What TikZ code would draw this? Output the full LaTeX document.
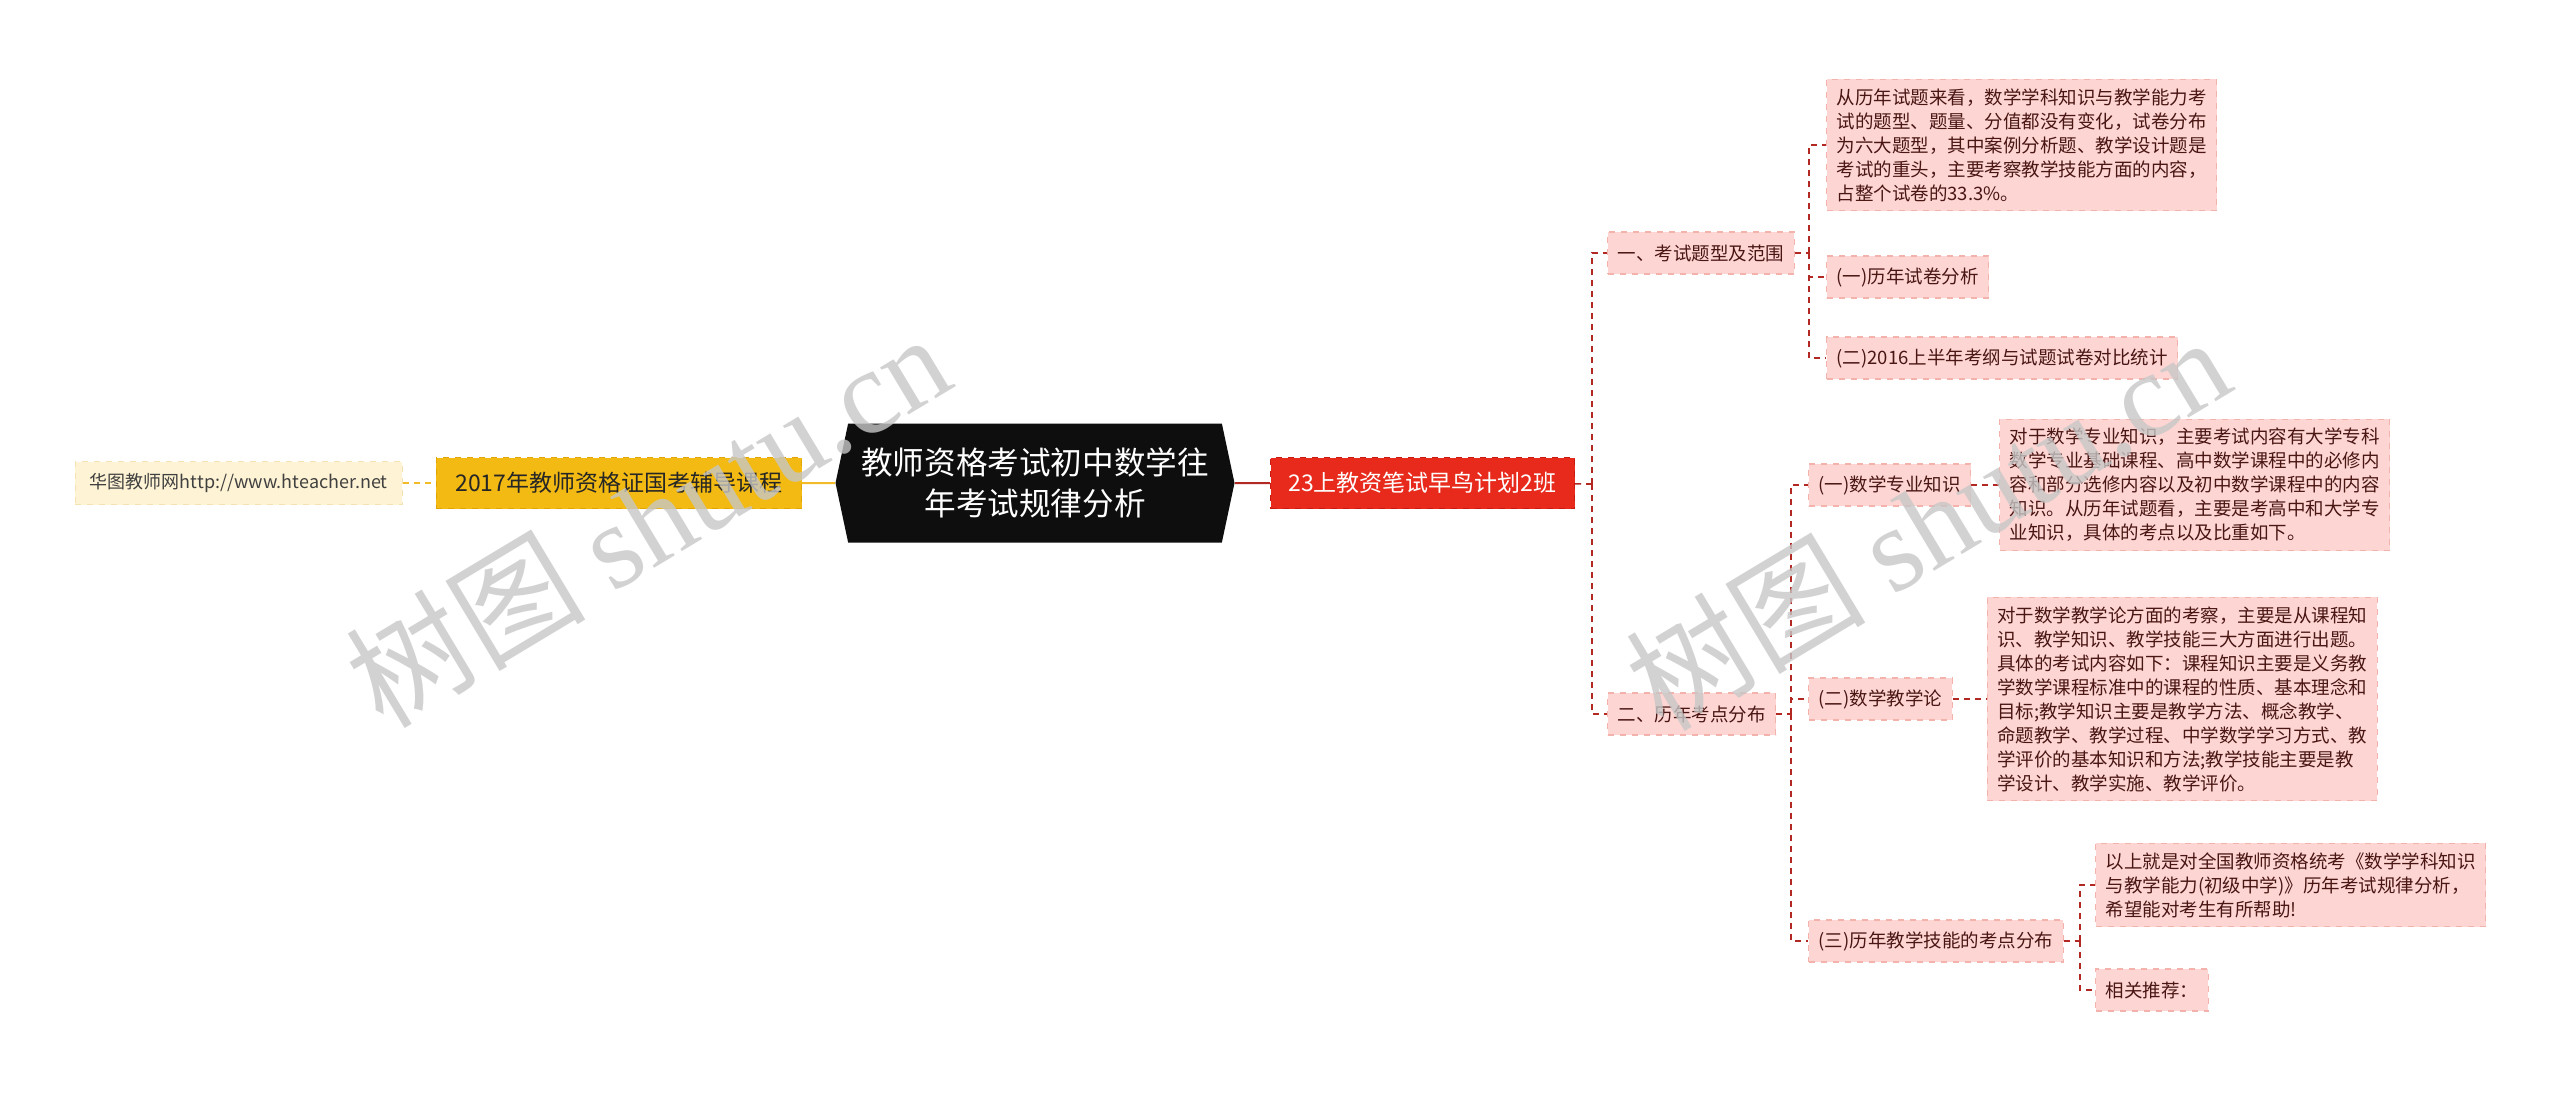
\documentclass[tikz,border=0pt]{standalone}
\usepackage{fontspec}
\setmainfont{Noto Sans CJK SC}
\newfontfamily\markfont{Liberation Serif}
\usetikzlibrary{positioning,shapes.symbols,calc}
\definecolor{hubblack}{RGB}{14,14,14}
\definecolor{courseyellow}{RGB}{242,186,18}
\definecolor{courseedge}{RGB}{226,164,0}
\definecolor{sitecream}{RGB}{254,243,212}
\definecolor{siteedge}{RGB}{244,226,176}
\definecolor{planred}{RGB}{232,42,28}
\definecolor{planedge}{RGB}{200,26,16}
\definecolor{leafpink}{RGB}{253,214,211}
\definecolor{leafedge}{RGB}{244,178,173}
\definecolor{leaftext}{RGB}{74,22,20}
\definecolor{linkred}{RGB}{178,40,34}
\definecolor{linkyellow}{RGB}{242,188,40}

\begin{document}
\begin{tikzpicture}[x=0.5pt,y=-0.5pt,
  mainnode/.style={rectangle,draw,dashed,line width=0.6pt,minimum height=25.5pt,
                   inner xsep=6pt,font=\fontsize{11.5}{14}\selectfont},
  leaf/.style={rectangle,fill=leafpink,draw=leafedge,dashed,line width=0.6pt,
               minimum height=21pt,inner xsep=5pt,inner ysep=4.5pt,text=leaftext,
               align=left,font=\fontsize{9.25}{12}\selectfont},
  link/.style={dashed,dash pattern=on 3pt off 2.5pt,line width=0.8pt,color=linkred},
  watermark/.style={rotate=31,text=black!22,opacity=0.8,font=\fontsize{60}{60}\selectfont}
]
\fill[white] (0,0) rectangle (2560,1093);
\useasboundingbox (0,0) rectangle (2560,1093);

% centre and left side
\node[signal,signal to=west and east,signal pointer angle=156,fill=hubblack,text=white,
      minimum width=199.5pt,minimum height=59.5pt,inner sep=0pt,align=center,
      font=\fontsize{15.8}{20.5}\selectfont] (hub) at (1035,483)
  {教师资格考试初中数学往\\年考试规律分析};
\node[mainnode,fill=courseyellow,draw=courseedge,text=black!85,minimum width=182.5pt,
      left=16.5pt of hub] (course) {2017年教师资格证国考辅导课程};
\node[mainnode,fill=sitecream,draw=siteedge,text=black!75,minimum width=163.5pt,
      minimum height=21.5pt,font=\fontsize{9}{11}\selectfont,
      left=16.5pt of course] (site) {华图教师网http://www.hteacher.net};
\node[mainnode,fill=planred,draw=planedge,text=white,minimum width=152pt,
      right=17.5pt of hub] (plan) {23上教资笔试早鸟计划2班};

% right side
\node[leaf,anchor=west] (exam) at (1607,253) {一、考试题型及范围};
\node[leaf,anchor=west] (spread) at (1607,714) {二、历年考点分布};

\node[leaf,anchor=west] (examtext) at (1826,145)
  {从历年试题来看，数学学科知识与教学能力考\\试的题型、题量、分值都没有变化，试卷分布\\为六大题型，其中案例分析题、教学设计题是\\考试的重头，主要考察教学技能方面的内容，\\占整个试卷的33.3\%。};
\node[leaf,anchor=west] (paper) at (1826,277) {(一)历年试卷分析};
\node[leaf,anchor=west] (outline) at (1826,358) {(二)2016上半年考纲与试题试卷对比统计};

\node[leaf,anchor=west] (major) at (1808,485) {(一)数学专业知识};
\node[leaf,right=14pt of major] (majortext)
  {对于数学专业知识，主要考试内容有大学专科\\数学专业基础课程、高中数学课程中的必修内\\容和部分选修内容以及初中数学课程中的内容\\知识。从历年试题看，主要是考高中和大学专\\业知识，具体的考点以及比重如下。};
\node[leaf,anchor=west] (didactic) at (1808,699) {(二)数学教学论};
\node[leaf,right=17pt of didactic] (didactictext)
  {对于数学教学论方面的考察，主要是从课程知\\识、教学知识、教学技能三大方面进行出题。\\具体的考试内容如下：课程知识主要是义务教\\学数学课程标准中的课程的性质、基本理念和\\目标;教学知识主要是教学方法、概念教学、\\命题教学、教学过程、中学数学学习方式、教\\学评价的基本知识和方法;教学技能主要是教\\学设计、教学实施、教学评价。};
\node[leaf,anchor=west] (skill) at (1808,941) {(三)历年教学技能的考点分布};
\node[leaf,anchor=west] (skilltext) at (2095,885)
  {以上就是对全国教师资格统考《数学学科知识\\与教学能力(初级中学)》历年考试规律分析，\\希望能对考生有所帮助!};
\node[leaf,anchor=west] (related) at (2095,990) {相关推荐：};

% connectors
\coordinate (trunk) at (1592,484);
\coordinate (fork1) at (1809,253);
\coordinate (fork2) at (1791,714);
\coordinate (fork3) at (2080,941);
\draw[link,color=linkyellow] (site) -- (course);
\draw[line width=1pt,color=linkyellow] (course) -- (hub);
\draw[line width=1pt,color=linkred] (hub) -- (plan);
\draw[link] (plan) -- (trunk);
\draw[link] (trunk) |- (exam.west);
\draw[link] (trunk) |- (spread.west);
\draw[link] (exam) -- (fork1);
\draw[link] (fork1) |- (examtext.west);
\draw[link] (fork1) |- (paper.west);
\draw[link] (fork1) |- (outline.west);
\draw[link] (spread) -- (fork2);
\draw[link] (fork2) |- (major.west);
\draw[link] (fork2) |- (didactic.west);
\draw[link] (fork2) |- (skill.west);
\draw[link] (major) -- (majortext);
\draw[link] (didactic) -- (didactictext);
\draw[link] (skill) -- (fork3);
\draw[link] (fork3) |- (skilltext.west);
\draw[link] (fork3) |- (related.west);

% watermarks
\node[watermark] (mark1) at (647,519) {树图 {\markfont shutu.cn}};
\node[watermark] (mark2) at (1927,522) {树图 {\markfont shutu.cn}};
\end{tikzpicture}
\end{document}
